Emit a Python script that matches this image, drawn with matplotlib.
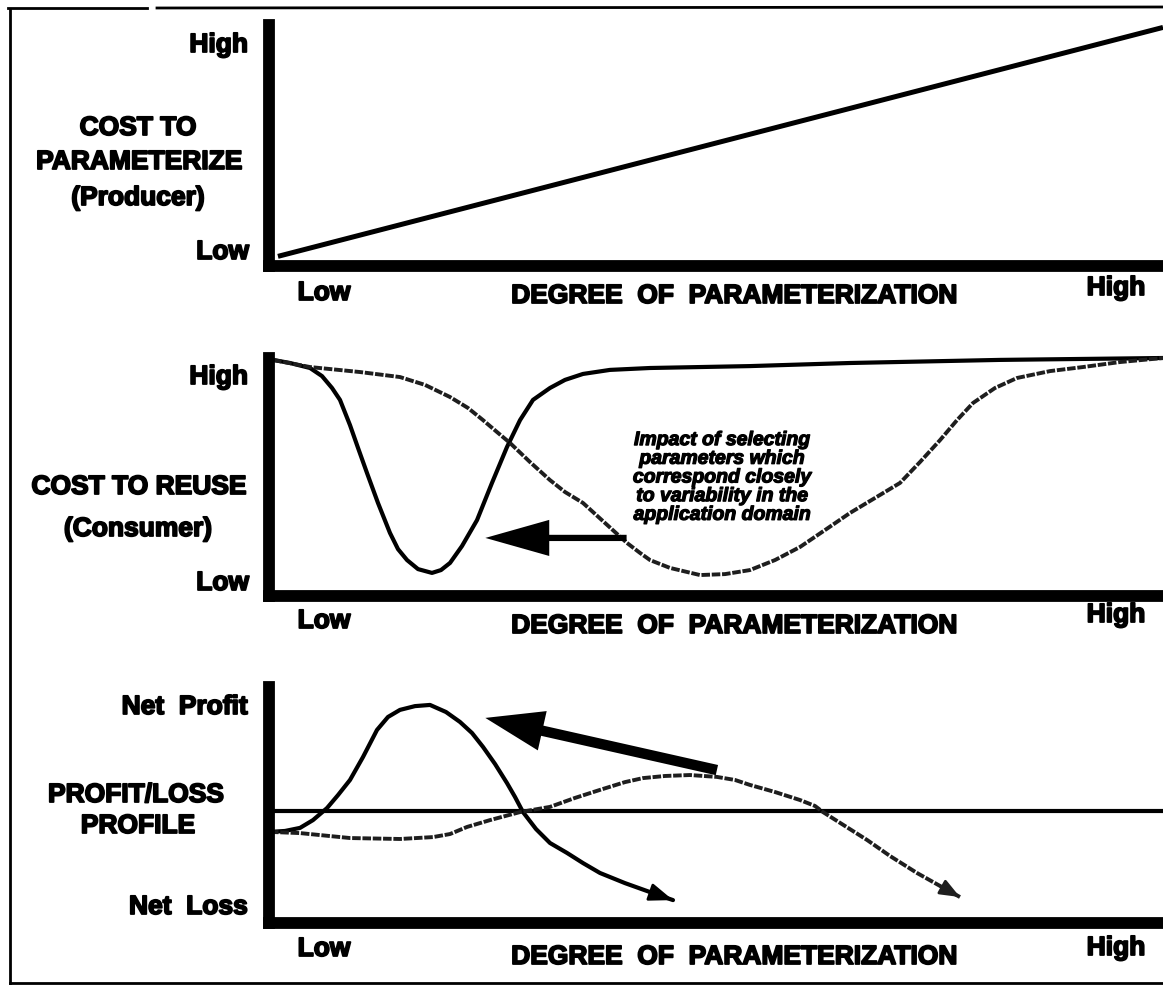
import matplotlib
matplotlib.use("Agg")
import matplotlib.pyplot as plt
from matplotlib.lines import Line2D
import matplotlib.patheffects as pe

plt.rcParams['font.family'] = ['Liberation Sans', 'DejaVu Sans']

# ---------------- data (degree of parameterization 0-100, value 0-100) -------------
# Panel 1: cost to parameterize (producer)
producer_x = [1, 100]
producer_y = [4, 99]

# Panel 2: cost to reuse (consumer)
reuse_good_x = [0.45, 2.35, 4.59, 5.93, 7.05, 7.94, 9.06, 9.96, 10.96, 12.19, 13.53, 14.43, 15.44,
                16.67, 18.23, 19.24, 20.25, 21.59, 23.27, 24.94, 26.62, 28.08, 29.53, 31.43, 33.11,
                35.12, 38.14, 42.62, 53.80, 64.99, 81.77, 100]
reuse_good_y = [99.2, 97.9, 95.8, 92.4, 87.4, 82.4, 71.8, 62.2, 51.7, 39.1, 26.5, 19.7, 15.1,
                11.3, 9.7, 10.9, 13.9, 21.0, 31.9, 47.5, 62.6, 73.9, 82.4, 87.4, 90.8,
                93.3, 95.0, 95.8, 96.6, 97.9, 99.2, 100]
reuse_poor_x = [0.45, 4.59, 10.18, 14.65, 17.45, 20.25, 22.26, 23.94, 25.50, 26.96, 29.19, 31.43,
                33.11, 35.12, 37.58, 40.04, 41.50, 42.62, 44.85, 48.21, 51.01, 53.80, 56.60, 59.40,
                62.19, 64.99, 67.79, 70.58, 72.82, 75.06, 76.96, 78.75, 81.21, 83.67, 87.36, 91.05,
                95.19, 100]
reuse_poor_y = [99.2, 96.2, 94.1, 92.0, 88.7, 83.6, 79.0, 73.9, 68.9, 64.3, 56.3, 48.7,
                43.7, 39.1, 30.7, 22.3, 18.1, 15.1, 11.8, 8.8, 9.2, 10.9, 15.1, 20.6,
                27.7, 34.9, 41.2, 47.5, 56.3, 65.5, 73.9, 81.1, 87.4, 91.6, 94.5, 96.2,
                98.3, 100]
reuse_arrow_from = (40.0, 24.4)
reuse_arrow_to = (24.2, 24.4)
impact_text = ("Impact of selecting\nparameters which\ncorrespond closely\n"
               "to variability in the\napplication domain")

# Panel 3: profit / loss profile
breakeven = 47.5
profit_good_x = [0.11, 1.79, 3.47, 4.92, 6.49, 7.72, 9.06, 10.51, 12.08, 13.31, 14.65, 16.33, 18.01,
                 19.80, 21.36, 22.71, 23.94, 25.28, 26.62, 27.52, 28.41, 29.87, 31.43, 33.33, 35.12,
                 37.02, 39.82, 42.62, 45.19]
profit_good_y = [38.6, 39.0, 40.3, 43.6, 48.7, 54.2, 60.6, 70.3, 81.8, 87.3, 90.3, 91.9, 92.4,
                 89.4, 85.2, 80.5, 74.6, 67.4, 59.3, 53.4, 47.0, 39.8, 33.9, 29.7, 25.4,
                 21.2, 16.9, 13.1, 9.7]
profit_poor_x = [0.11, 3.47, 9.06, 14.65, 18.34, 20.25, 22.15, 24.72, 28.08, 31.43, 34.23, 37.02,
                 39.82, 41.83, 44.30, 47.09, 50.11, 52.13, 53.80, 56.60, 59.40, 61.07, 61.97, 64.43,
                 66.89, 69.46, 72.48, 75.06, 77.29]
profit_poor_y = [38.6, 38.1, 36.0, 35.6, 36.4, 37.7, 40.7, 43.6, 47.0, 49.2, 53.0, 56.4,
                 59.7, 61.4, 62.3, 62.7, 61.9, 60.6, 58.5, 55.5, 52.1, 49.6, 47.0, 41.1,
                 35.2, 28.4, 21.2, 15.7, 11.0]
profit_arrow_from = (50.1, 64.8)
profit_arrow_to = (24.2, 86.9)

x_axis_title = "DEGREE  OF  PARAMETERIZATION"

# ---------------- figure -------------
W, H = 1163, 994
fig = plt.figure(figsize=(W / 100, H / 100), dpi=100)
fig.patch.set_facecolor('white')


def fx(px):
    return px / W


def fy(py):
    return 1 - py / H


# outer frame (scanned page border)
frame = [((10, 10), (10, 983)), ((8, 8), (147, 8)), ((157, 8), (1163, 7)), ((10, 983), (1163, 983))]
for (x0, y0), (x1, y1) in frame:
    fig.add_artist(Line2D([fx(x0), fx(x1)], [fy(y0), fy(y1)], transform=fig.transFigure,
                          color='black', lw=2.0))

LEFT, RIGHT = 269, 1163
DOT = '#1e1e1e'
DOTSTYLE = (0, (2.2, 0.45))
THICK = [pe.withStroke(linewidth=1.3, foreground='black')]


def make_axes(top, bottom):
    ax = fig.add_axes([fx(LEFT), fy(bottom), (RIGHT - LEFT) / W, (bottom - top) / H])
    ax.set_xlim(0, 100)
    ax.set_ylim(0, 100)
    ax.set_xticks([])
    ax.set_yticks([])
    ax.patch.set_alpha(0)
    for s in ('top', 'right'):
        ax.spines[s].set_visible(False)
    for s in ('left', 'bottom'):
        ax.spines[s].set_linewidth(8.5)
        ax.spines[s].set_color('black')
        ax.spines[s].set_capstyle('projecting')
    return ax


BOLD = dict(fontweight='bold', fontsize=19, color='black')


def lbl(x, y, s, ha='center', **kw):
    d = dict(BOLD)
    d.update(kw)
    fig.text(fx(x), fy(y), s, ha=ha, va='center', path_effects=THICK, **d)


def xlabels(y_low, y_title, y_high):
    lbl(324, y_low, "Low")
    lbl(734, y_title, x_axis_title)
    lbl(1116, y_high, "High")


# ---------------- panel 1 -------------
ax1 = make_axes(25, 266)
ax1.plot(producer_x, producer_y, color='black', lw=3.6, solid_capstyle='butt', clip_on=False)
lbl(248, 45, "High", ha='right')
lbl(249, 252, "Low", ha='right')
lbl(138, 128, "COST TO")
lbl(139, 162, "PARAMETERIZE")
lbl(138, 198, "(Producer)")
xlabels(293, 296, 288)

# ---------------- panel 2 -------------
ax2 = make_axes(358, 596)
ax2.plot(reuse_good_x, reuse_good_y, color='black', lw=3.0, clip_on=False,
         solid_joinstyle='round', solid_capstyle='round')
ax2.plot(reuse_poor_x, reuse_poor_y, color=DOT, lw=2.8, linestyle=DOTSTYLE, clip_on=False)
ax2.annotate('', xy=reuse_arrow_to, xytext=reuse_arrow_from,
             arrowprops=dict(arrowstyle='simple,head_length=4.6,head_width=2.6,tail_width=0.45',
                             mutation_scale=10, color='black', lw=0, shrinkA=0, shrinkB=0))
ax2.text(50.7, 49.6, impact_text, ha='center', va='center', fontsize=14, fontweight='bold',
         style='italic', linespacing=1.13, color='black',
         path_effects=[pe.withStroke(linewidth=0.9, foreground='black')])
lbl(248, 377, "High", ha='right')
lbl(249, 583, "Low", ha='right')
lbl(139, 487, "COST TO REUSE")
lbl(138, 529, "(Consumer)")
xlabels(621, 626, 615)

# ---------------- panel 3 -------------
ax3 = make_axes(687, 923)
ax3.axhline(breakeven, color='black', lw=3.0)
ax3.plot(profit_good_x, profit_good_y, color='black', lw=3.0, clip_on=False,
         solid_joinstyle='round', solid_capstyle='round')
ax3.annotate('', xy=(profit_good_x[-1], profit_good_y[-1]), xytext=(profit_good_x[-2], profit_good_y[-2]),
             arrowprops=dict(arrowstyle='-|>,head_length=1.2,head_width=0.45', mutation_scale=12,
                             color='black', lw=2, shrinkA=0, shrinkB=0))
ax3.plot(profit_poor_x, profit_poor_y, color=DOT, lw=2.8, linestyle=DOTSTYLE, clip_on=False)
ax3.annotate('', xy=(profit_poor_x[-1], profit_poor_y[-1]), xytext=(profit_poor_x[-2], profit_poor_y[-2]),
             arrowprops=dict(arrowstyle='-|>,head_length=1.0,head_width=0.4', mutation_scale=12,
                             color=DOT, lw=2, shrinkA=0, shrinkB=0))
ax3.annotate('', xy=profit_arrow_to, xytext=profit_arrow_from,
             arrowprops=dict(arrowstyle='simple,head_length=4.2,head_width=2.9,tail_width=0.75',
                             mutation_scale=10, color='black', lw=0, shrinkA=0, shrinkB=0))
lbl(248, 707, "Net  Profit", ha='right')
lbl(248, 907, "Net  Loss", ha='right')
lbl(136, 795, "PROFIT/LOSS")
lbl(138, 826, "PROFILE")
xlabels(949, 957, 948)

fig.savefig("out.png", dpi=100, facecolor='white')
